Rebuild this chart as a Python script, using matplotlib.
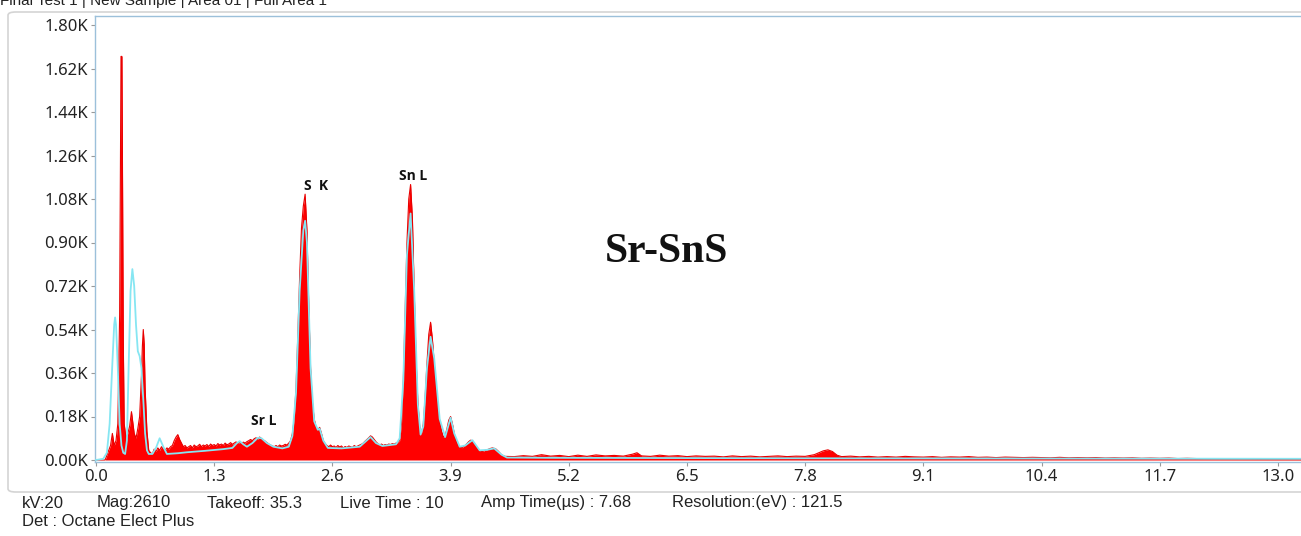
import matplotlib
matplotlib.use("Agg")
import matplotlib.pyplot as plt
from matplotlib.patches import FancyBboxPatch
from matplotlib.ticker import FuncFormatter

# ---------------- data (energy keV, counts) ----------------
red_spectrum = [
    (0.00, 0), (0.10, 0), (0.12, 20), (0.14, 40), (0.16, 60), (0.18, 110), (0.20, 60),
    (0.22, 80), (0.24, 150), (0.26, 600), (0.27, 1300), (0.275, 1670), (0.285, 1670),
    (0.29, 1310), (0.30, 500), (0.31, 150), (0.33, 90), (0.35, 110), (0.37, 140),
    (0.39, 200), (0.40, 170), (0.42, 110), (0.44, 90), (0.46, 130), (0.48, 180),
    (0.50, 350), (0.51, 470), (0.52, 540), (0.53, 480), (0.54, 300), (0.56, 120),
    (0.58, 40), (0.60, 30), (0.62, 25), (0.64, 45), (0.66, 35), (0.68, 50), (0.70, 40),
    (0.72, 55), (0.74, 45), (0.76, 40), (0.78, 50), (0.80, 45), (0.82, 55), (0.84, 60),
    (0.86, 80), (0.88, 95), (0.90, 105), (0.92, 85), (0.94, 70), (0.96, 55), (0.98, 60),
    (1.00, 50), (1.02, 55), (1.04, 60), (1.06, 50), (1.08, 62), (1.10, 55), (1.12, 58),
    (1.14, 65), (1.16, 55), (1.18, 62), (1.20, 58), (1.22, 64), (1.24, 56), (1.26, 66),
    (1.28, 60), (1.30, 64), (1.32, 58), (1.34, 68), (1.36, 62), (1.38, 66), (1.40, 60),
    (1.42, 70), (1.44, 63), (1.46, 66), (1.48, 72), (1.50, 65), (1.52, 70), (1.54, 75),
    (1.56, 68), (1.58, 72), (1.60, 68), (1.62, 74), (1.64, 70), (1.66, 76), (1.68, 80),
    (1.70, 85), (1.72, 80), (1.74, 88), (1.76, 92), (1.78, 85), (1.80, 95), (1.82, 88),
    (1.84, 82), (1.86, 78), (1.88, 72), (1.90, 66), (1.92, 62), (1.94, 58), (1.96, 55),
    (1.98, 60), (2.00, 55), (2.02, 62), (2.04, 58), (2.06, 60), (2.08, 65), (2.10, 62),
    (2.12, 70), (2.14, 80), (2.16, 110), (2.18, 170), (2.20, 300), (2.22, 520),
    (2.24, 760), (2.26, 960), (2.28, 1050), (2.30, 1100), (2.32, 950), (2.34, 640),
    (2.36, 380), (2.38, 240), (2.40, 170), (2.42, 135), (2.44, 125), (2.46, 135),
    (2.48, 110), (2.50, 80), (2.52, 68), (2.54, 60), (2.56, 55), (2.58, 62), (2.60, 55),
    (2.62, 58), (2.64, 52), (2.66, 60), (2.68, 54), (2.70, 58), (2.72, 50), (2.74, 56),
    (2.76, 52), (2.78, 58), (2.80, 55), (2.82, 52), (2.84, 60), (2.86, 55), (2.88, 58),
    (2.90, 62), (2.92, 65), (2.94, 70), (2.96, 78), (2.98, 85), (3.00, 92), (3.02, 100),
    (3.04, 95), (3.06, 85), (3.08, 75), (3.10, 68), (3.12, 62), (3.14, 66), (3.16, 60),
    (3.18, 64), (3.20, 62), (3.22, 66), (3.24, 64), (3.26, 68), (3.28, 66), (3.30, 70),
    (3.32, 72), (3.34, 80), (3.36, 150), (3.38, 330), (3.40, 620), (3.42, 900),
    (3.44, 1080), (3.46, 1140), (3.48, 1000), (3.50, 700), (3.52, 420), (3.54, 240),
    (3.56, 140), (3.58, 110), (3.60, 150), (3.62, 260), (3.64, 400), (3.66, 520),
    (3.68, 570), (3.70, 500), (3.72, 400), (3.74, 300), (3.76, 220), (3.78, 160),
    (3.80, 120), (3.82, 95), (3.84, 100), (3.86, 130), (3.88, 165), (3.90, 180),
    (3.92, 150), (3.94, 110), (3.96, 80), (3.98, 62), (4.00, 55), (4.02, 50), (4.04, 55),
    (4.06, 60), (4.08, 68), (4.10, 76), (4.12, 82), (4.14, 80), (4.16, 70), (4.18, 55),
    (4.20, 45), (4.22, 38), (4.24, 35), (4.26, 36), (4.28, 40), (4.30, 42), (4.32, 45),
    (4.34, 48), (4.36, 50), (4.38, 48), (4.40, 45), (4.42, 38), (4.44, 30), (4.46, 22),
    (4.48, 18), (4.50, 15), (4.6, 14), (4.7, 18), (4.8, 15), (4.9, 22), (5.0, 16),
    (5.1, 19), (5.2, 14), (5.3, 20), (5.4, 15), (5.5, 21), (5.6, 17), (5.7, 19),
    (5.8, 16), (5.9, 24), (5.95, 30), (6.0, 17), (6.1, 15), (6.2, 20), (6.3, 16),
    (6.4, 18), (6.5, 14), (6.6, 17), (6.7, 15), (6.8, 16), (6.9, 13), (7.0, 17),
    (7.1, 14), (7.2, 16), (7.3, 13), (7.4, 15), (7.5, 17), (7.6, 14), (7.7, 16),
    (7.8, 15), (7.9, 22), (8.0, 38), (8.05, 42), (8.1, 35), (8.15, 20), (8.2, 14),
    (8.3, 16), (8.4, 13), (8.5, 15), (8.6, 12), (8.7, 14), (8.8, 12), (8.9, 15),
    (9.0, 13), (9.1, 12), (9.2, 14), (9.3, 11), (9.4, 13), (9.5, 12), (9.6, 14),
    (9.7, 11), (9.8, 12), (9.9, 10), (10.0, 12), (10.1, 11), (10.2, 10), (10.3, 11),
    (10.4, 10), (10.5, 9), (10.6, 11), (10.7, 9), (10.8, 10), (10.9, 9), (11.0, 10),
    (11.1, 8), (11.2, 9), (11.3, 8), (11.4, 9), (11.5, 7), (11.6, 8), (11.7, 7),
    (11.8, 8), (11.9, 6), (12.0, 7), (12.2, 5), (12.4, 4), (12.6, 4), (12.8, 3),
    (13.0, 3), (13.3, 3),
]

fit_spectrum = [
    (0.00, 0), (0.08, 5), (0.12, 30), (0.15, 150), (0.18, 400), (0.20, 560), (0.21, 590),
    (0.22, 560), (0.24, 380), (0.26, 150), (0.28, 60), (0.30, 30), (0.32, 25), (0.34, 80),
    (0.36, 400), (0.38, 700), (0.40, 790), (0.42, 720), (0.44, 560), (0.46, 450),
    (0.48, 430), (0.50, 380), (0.52, 250), (0.54, 110), (0.56, 40), (0.58, 25),
    (0.62, 25), (0.66, 50), (0.70, 90), (0.74, 55), (0.78, 25), (0.90, 28), (1.00, 32),
    (1.20, 38), (1.40, 45), (1.50, 50), (1.55, 70), (1.58, 78), (1.62, 65), (1.66, 55),
    (1.72, 70), (1.78, 92), (1.82, 90), (1.88, 70), (1.95, 55), (2.05, 48), (2.12, 55),
    (2.16, 100), (2.20, 280), (2.24, 700), (2.28, 950), (2.30, 990), (2.32, 900),
    (2.36, 380), (2.40, 160), (2.44, 125), (2.46, 130), (2.50, 80), (2.55, 50),
    (2.70, 48), (2.90, 55), (2.96, 75), (3.02, 95), (3.08, 70), (3.15, 58), (3.30, 65),
    (3.34, 90), (3.38, 330), (3.42, 850), (3.46, 1020), (3.50, 700), (3.54, 230),
    (3.57, 105), (3.60, 140), (3.64, 380), (3.68, 510), (3.72, 420), (3.78, 170),
    (3.84, 95), (3.90, 175), (3.94, 110), (4.00, 55), (4.06, 60), (4.14, 82), (4.22, 40),
    (4.30, 42), (4.38, 48), (4.46, 22), (4.52, 10), (5.0, 9), (8.0, 7), (13.3, 5),
]

bkg_spectrum = [
    (0.55, 30), (0.62, 22), (0.80, 22), (1.00, 30), (1.20, 36), (1.40, 42), (1.50, 46),
    (1.60, 50), (1.90, 50), (2.00, 46), (2.60, 46), (2.90, 50), (3.30, 58), (3.60, 60),
    (4.00, 48), (4.50, 10), (13.3, 3),
]

x_ticks = [0.0, 1.3, 2.6, 3.9, 5.2, 6.5, 7.8, 9.1, 10.4, 11.7, 13.0]
y_ticks = [0, 180, 360, 540, 720, 900, 1080, 1260, 1440, 1620, 1800]

peak_labels = ["S  K", "Sn L", "Sr L"]
peak_label_pos = [(2.42, 1134), (3.49, 1175), (1.85, 161)]

title_text = "Final Test 1 | New Sample | Area 01 | Full Area 1"
footer_line1 = ["kV:20", "Mag:2610", "Takeoff: 35.3", "Live Time : 10",
                "Amp Time(\u00b5s) : 7.68", "Resolution:(eV) : 121.5"]
footer_line2 = "Det : Octane Elect Plus"
sample_name = "Sr-SnS"

# ---------------- figure ----------------
W, H = 1301, 536
fig = plt.figure(figsize=(W / 100, H / 100), dpi=100)
fig.patch.set_facecolor("white")

def fx(px):
    return px / W

def fy(py):
    return 1 - py / H

# outer rounded frame
frame = FancyBboxPatch((fx(8), fy(492)), fx(1320) - fx(8), fy(12) - fy(492),
                       boxstyle="round,pad=0,rounding_size=0.006",
                       transform=fig.transFigure, facecolor="none",
                       edgecolor="#d4d4d4", linewidth=1.2, zorder=-5)
fig.patches.append(frame)

ax_left, ax_right, ax_top, ax_bottom = 95, 1305, 16, 462
ax = fig.add_axes([fx(ax_left), fy(ax_bottom), fx(ax_right - ax_left), (ax_bottom - ax_top) / H])
ax.set_facecolor("white")
ax.set_zorder(2)

re = [p[0] for p in red_spectrum]
rc = [p[1] for p in red_spectrum]
fe = [p[0] for p in fit_spectrum]
fc = [p[1] for p in fit_spectrum]
be = [p[0] for p in bkg_spectrum]
bc = [p[1] for p in bkg_spectrum]

ax.plot(be, bc, color="#a8a898", linewidth=1.4, zorder=1)
ax.fill_between(re, rc, 0, color="#ff0000", linewidth=0, zorder=2)
ax.plot(re, rc, color="#e80000", linewidth=0.8, zorder=2)
ax.plot(fe, fc, color="#86e6f2", linewidth=1.3, zorder=4)

px_per_kev = 90.92
xmin = -(96 - ax_left) / px_per_kev
xmax = (ax_right - 96) / px_per_kev
ax.set_xlim(xmin, xmax)
px_per_count = 435 / 1800
ax.set_ylim(-(ax_bottom - 460) / px_per_count, (460 - ax_top) / px_per_count)

ax.set_xticks(x_ticks)
ax.set_xticklabels([f"{v:.1f}" for v in x_ticks])
ax.set_yticks(y_ticks)
ax.yaxis.set_major_formatter(FuncFormatter(lambda v, p: f"{v/1000:.2f}K"))

tick_font = "Noto Sans"
for lab in ax.get_xticklabels() + ax.get_yticklabels():
    lab.set_fontfamily(tick_font)
    lab.set_fontsize(12)
    lab.set_color("#222222")
ax.tick_params(axis="both", direction="out", length=3, width=0.8, color="#9a9a9a", pad=2)

for s in ax.spines.values():
    s.set_color("#9cc0da")
    s.set_linewidth(1.0)

# peak labels
for lab, (ex, cy) in zip(peak_labels, peak_label_pos):
    ax.text(ex, cy, lab, ha="center", va="center", fontsize=10, fontweight="bold",
            family="Open Sans", color="#111111", zorder=5)

ax.text(6.27, 860, sample_name, ha="center", va="center", fontsize=30,
        fontweight="bold", family="Liberation Serif", color="#111111", zorder=5)

# title (partially cut off at the top, as in the reference)
fig.text(fx(0), fy(5), title_text, ha="left", va="baseline", fontsize=11,
         family=["Liberation Sans Narrow", "Liberation Sans"], color="#222222")

# footer
foot_x = [22, 97, 207, 340, 481, 672]
for t, x in zip(footer_line1, foot_x):
    fig.text(fx(x), fy(503), t, ha="left", va="center", fontsize=12,
             family=["Liberation Sans Narrow", "Liberation Sans"], color="#222222")
fig.text(fx(22), fy(521), footer_line2, ha="left", va="center", fontsize=12,
         family=["Liberation Sans Narrow", "Liberation Sans"], color="#222222")

fig.savefig("out.png", dpi=100, facecolor="white")
